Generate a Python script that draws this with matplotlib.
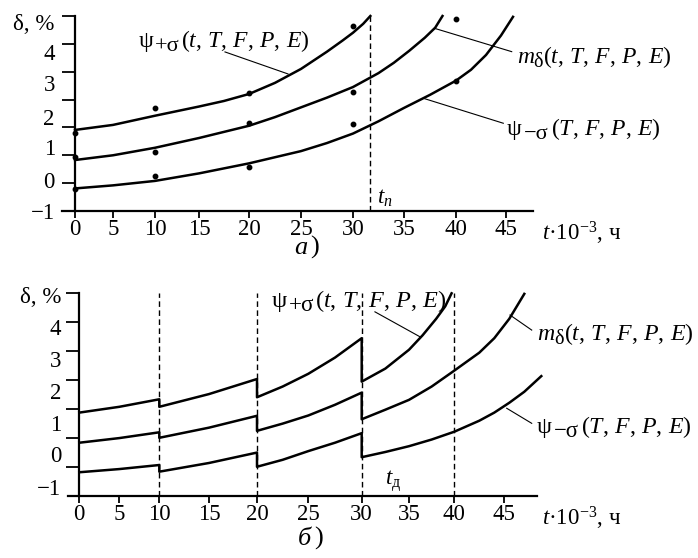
import numpy as np
import matplotlib
matplotlib.use('Agg')
import matplotlib.pyplot as plt

plt.rcParams['font.family'] = ['Liberation Serif', 'DejaVu Serif']
plt.rcParams['mathtext.fontset'] = 'custom'
plt.rcParams['mathtext.rm'] = 'Liberation Serif'
plt.rcParams['mathtext.it'] = 'Liberation Serif:italic'
plt.rcParams['mathtext.bf'] = 'Liberation Serif:bold'

# ---------- а) измерения и аппроксимация ----------
a_plus_t = [0, 5, 10, 15, 17.5, 20, 22.5, 25, 27.5, 29, 30, 31, 31.7]
a_plus_v = [1.91, 2.09, 2.42, 2.75, 2.95, 3.20, 3.60, 4.10, 4.72, 5.12, 5.40, 5.72, 6.00]
a_mid_t = [0, 5, 10, 15, 20, 22.5, 25, 27.5, 30, 32.5, 34, 35.5, 37, 38, 38.7]
a_mid_v = [0.83, 1.00, 1.27, 1.62, 2.06, 2.37, 2.72, 3.07, 3.45, 3.95, 4.32, 4.75, 5.22, 5.58, 6.00]
a_low_t = [0, 5, 10, 15, 20, 25, 27.5, 30, 32.5, 35, 37.5, 40, 41.5, 43, 44.5, 45.7]
a_low_v = [-0.19, -0.08, 0.08, 0.35, 0.71, 1.15, 1.44, 1.78, 2.22, 2.70, 3.17, 3.68, 4.07, 4.60, 5.30, 5.97]
dots_t = [0, 0, 0, 10, 10, 10, 20, 20, 20, 30, 30, 30, 40, 40]
dots_v = [1.79, 0.94, -0.21, 2.69, 1.13, 0.27, 3.22, 2.17, 0.57, 5.64, 3.28, 2.11, 5.88, 3.67]
t_n = 31.7

# ---------- б) с восстановлениями ----------
b_plus_t = [0, 5, 10, 10, 15, 20, 20, 22.5, 25, 27.5, 30, 30, 32.5, 35, 36.5, 38, 39, 39.7]
b_plus_v = [1.88, 2.08, 2.34, 2.08, 2.52, 3.04, 2.41, 2.78, 3.22, 3.78, 4.45,
            2.95, 3.40, 4.05, 4.55, 5.12, 5.55, 6.00]
b_mid_t = [0, 5, 10, 10, 15, 20, 20, 22.5, 25, 27.5, 30, 30, 32.5, 35, 37.5, 40, 42.5, 44, 45.5, 47]
b_mid_v = [0.84, 1.00, 1.20, 1.01, 1.36, 1.77, 1.25, 1.50, 1.78, 2.15, 2.57,
           1.65, 1.98, 2.32, 2.78, 3.33, 3.95, 4.45, 5.12, 5.98]
b_low_t = [0, 5, 10, 10, 15, 20, 20, 22.5, 25, 27.5, 30, 30, 32.5, 35, 37.5, 40, 42.5, 44, 45.5, 47, 48.7]
b_low_v = [-0.18, -0.07, 0.07, -0.16, 0.14, 0.50, 0.01, 0.25, 0.55, 0.84, 1.17,
           0.34, 0.52, 0.72, 0.95, 1.22, 1.60, 1.88, 2.22, 2.60, 3.14]
b_marks = [10, 20, 30, 40]

x_ticks = list(range(0, 50, 5))
y_ticks = list(range(0, 7))
a_ylab_pos = [5.78, 4.70, 3.59, 2.37, 1.29, 0.11, -1.0]
b_ylab_pos = [5.94, 4.83, 3.72, 2.63, 1.53, 0.46, -0.70]
y_labels = ['δ, %', '4', '3', '2', '1', '0', '−1']

# неравномерная шкала времени, как на рисунке
scale_t = [-5, 0, 5, 10, 15, 20, 25, 30, 35, 40, 45, 50]
a_scale_px = [37, 75, 113, 155, 199, 249, 301, 353, 404, 456, 506, 556]
b_scale_px = [39.3, 79.3, 119.3, 159.3, 209, 257, 308.3, 361.7, 409, 454.3, 504.3, 554.3]

args_full = r'$(t,\,T,\,F,\,P,\,E)$'
args_short = r'$(T,\,F,\,P,\,E)$'
x_label = r'$t\mathrm{·}10^{-3}$, ч'

W, H = 698, 558
FS = 16.5
fig = plt.figure(figsize=(W / 100, H / 100), dpi=100)
rend = fig.canvas.get_renderer()


def put(x, y, s, fs=FS, **kw):
    return fig.text(x / W, 1 - y / H, s, fontsize=fs, ha='left', va='baseline', **kw)


def label(x, y, head, sub, tail, fs, head_style='normal', gap=0.0, k=0.85):
    t = put(x, y, head, fs, style=head_style)
    x = t.get_window_extent(rend).x1 + gap
    t = put(x, y + 4, sub, fs * k)
    x = t.get_window_extent(rend).x1 + gap
    put(x, y, tail, fs)


def make_axes(box, scale_px, xlim, ylab_pos, ypad):
    l, t, r, b = box
    ax = fig.add_axes([l / W, 1 - b / H, (r - l) / W, (b - t) / H])
    fwd = lambda x: np.interp(x, scale_t, scale_px)
    inv = lambda p: np.interp(p, scale_px, scale_t)
    ax.set_xscale('function', functions=(fwd, inv))
    ax.set_xlim(*xlim)
    ax.set_ylim(-1, 6)
    ax.patch.set_visible(False)
    for s in ['top', 'right']:
        ax.spines[s].set_visible(False)
    ax.spines['left'].set_position(('data', 0))
    ax.spines['left'].set_linewidth(1.6)
    ax.spines['bottom'].set_linewidth(1.6)
    ax.set_xticks(x_ticks)
    ax.set_xticklabels([str(v) for v in x_ticks])
    ax.tick_params(axis='x', direction='out', length=5, width=1.3, labelsize=FS, pad=1)
    ax.set_yticks(y_ticks)
    ax.tick_params(axis='y', which='major', length=9.5, width=1.3, labelleft=False)
    ax.set_yticks(ylab_pos, minor=True)
    ax.set_yticklabels(y_labels, minor=True)
    ax.tick_params(axis='y', which='minor', length=0, pad=ypad, labelsize=FS)
    return ax


line_kw = dict(color='black', lw=1.8, clip_on=False)
lead_kw = dict(color='black', lw=0.8, clip_on=False)
dash_kw = dict(color='black', lw=1.0, ls=(0, (4, 2.5)), clip_on=False)

# ---------- а) ----------
ax1 = make_axes((62, 16, 533, 211), a_scale_px, (-1.71, 47.7), a_ylab_pos, 14.5)
ax1.plot(a_plus_t, a_plus_v, **line_kw)
ax1.plot(a_mid_t, a_mid_v, **line_kw)
ax1.plot(a_low_t, a_low_v, **line_kw)
ax1.plot(dots_t, dots_v, 'o', color='black', ms=3.2, clip_on=False)
ax1.plot([t_n, t_n], [-1, 6], **dash_kw)
ax1.plot([17.6, 23.75], [4.71, 3.92], **lead_kw)
ax1.plot([45.57, 38.0], [4.72, 5.55], **lead_kw)
ax1.plot([44.73, 37.0], [2.15, 3.03], **lead_kw)

label(138.3, 46.7, 'ψ', '+σ', args_full, 17, gap=1.5, k=0.95)
label(516.7, 63.3, 'm', 'δ', args_full, 17, 'italic')
label(506.7, 135, 'ψ', '−σ', args_short, 17, gap=2.5, k=0.95)
put(376.7, 204, r'$t_{п}$')
put(294, 254, 'а', 19, style='italic')
put(310, 254, ')', 19)
put(541.7, 240, x_label)

# ---------- б) ----------
ax2 = make_axes((68.3, 293.3, 536.7, 496), b_scale_px, (-1.375, 48.24), b_ylab_pos, 13)
ax2.plot(b_plus_t, b_plus_v, **line_kw)
ax2.plot(b_mid_t, b_mid_v, **line_kw)
ax2.plot(b_low_t, b_low_v, **line_kw)
for m in b_marks:
    ax2.plot([m, m], [-1, 6], **dash_kw)
ax2.plot([31.4, 36.2], [5.36, 4.50], **lead_kw)
ax2.plot([47.74, 45.57], [4.73, 5.25], **lead_kw)
ax2.plot([47.74, 45.24], [1.51, 2.03], **lead_kw)

label(271.7, 307, 'ψ', '+σ', args_full, 17.5, gap=1.5, k=0.95)
label(537.3, 340, 'm', 'δ', args_full, 17.2, 'italic')
label(536.7, 433, 'ψ', '−σ', args_short, 17.2, gap=2, k=0.95)
put(385, 485, r'$t_{\mathrm{д}}$')
put(298, 545, 'б', 19, style='italic')
put(314, 545, ')', 19)
put(541.7, 525, x_label)

fig.savefig('out.png', dpi=100)
